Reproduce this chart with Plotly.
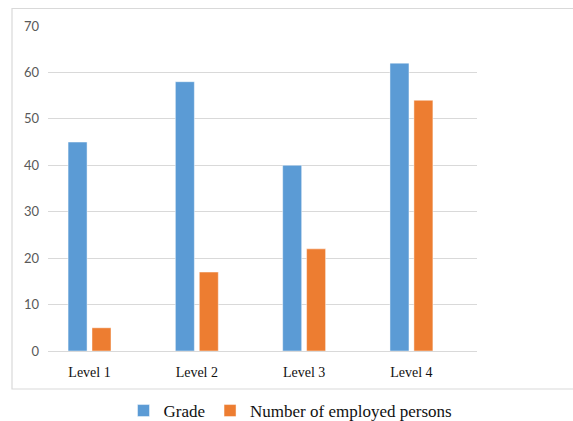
import plotly.graph_objects as go

# Chart data
categories = ["Level 1", "Level 2", "Level 3", "Level 4"]
grade = [45, 58, 40, 62]
employed = [5, 17, 22, 54]
y_ticks = [0, 10, 20, 30, 40, 50, 60, 70]

W, H = 573, 421
positions = list(range(len(categories)))

BLUE = "#5B9BD5"
ORANGE = "#ED7D31"
GRID = "#D9D9D9"

fig = go.Figure()
fig.add_trace(go.Bar(
    x=positions, y=grade, name="Grade",
    marker=dict(color=BLUE, line=dict(color="rgba(255,255,255,0.45)", width=1)),
    width=0.177, offset=-0.200,
))
fig.add_trace(go.Bar(
    x=positions, y=employed, name="Number of employed persons",
    marker=dict(color=ORANGE, line=dict(color="rgba(255,255,255,0.45)", width=1)),
    width=0.177, offset=0.023,
))

# outer chart frame
fig.add_shape(type="rect", xref="paper", yref="paper",
              x0=12 / W, x1=1.02, y0=1 - 389 / H, y1=1 - 8.5 / H,
              line=dict(color="#D9D9D9", width=1.2), layer="below")

fig.update_layout(
    width=W, height=H,
    margin=dict(l=0, r=0, t=0, b=0, autoexpand=False),
    paper_bgcolor="white", plot_bgcolor="white",
    barmode="overlay",
    showlegend=True,
    legend=dict(orientation="h", x=0.507, xanchor="center", y=1 - 411 / H, yanchor="middle",
                font=dict(family="Liberation Serif", size=17, color="#111111"),
                itemwidth=30, tracegroupgap=0),
    xaxis=dict(domain=[48 / W, 477 / W], range=[-0.387, 3.611],
               tickvals=positions, ticktext=categories, showgrid=False, zeroline=False,
               showline=False, ticks="", ticklabelstandoff=11,
               tickfont=dict(family="Liberation Serif", size=14, color="#111111")),
    yaxis=dict(domain=[1 - 351 / H, 1 - 26 / H], range=[0, 70],
               tickvals=y_ticks, showgrid=True, gridcolor=GRID, gridwidth=1.2,
               zeroline=True, zerolinecolor=GRID, zerolinewidth=1.2,
               showline=False, ticks="", ticklabelstandoff=8,
               tickfont=dict(family="Lato", size=13, color="#595959")),
)

fig.write_html("out.html")
